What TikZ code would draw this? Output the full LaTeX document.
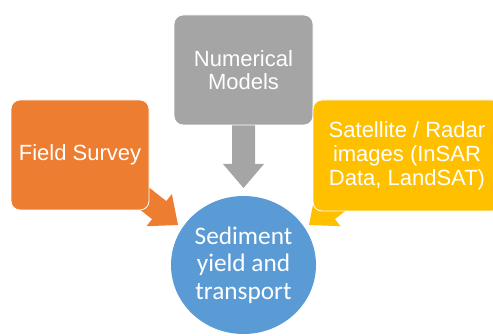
\documentclass[tikz,border=0pt]{standalone}
\usepackage{fontspec}
\setmainfont{Liberation Sans}
\newfontfamily\calib{Carlito}
\usetikzlibrary{shapes.geometric}
\definecolor{cOrange}{HTML}{ED7D31}
\definecolor{cGray}{HTML}{A5A5A5}
\definecolor{cYellow}{HTML}{FFC000}
\definecolor{cBlue}{HTML}{5B9BD5}
\newcommand\blockarrowshape[2]{%
  \fill[#1] (0,0) -- (-24,20.5) -- (-24,11.5) -- (-#2,11.5) -- (-#2,-11.5) -- (-24,-11.5) -- (-24,-20.5) -- cycle;}
\begin{document}
\begin{tikzpicture}[x=1pt,y=-1pt,
  box/.style={rectangle, rounded corners=9pt, draw=white, line width=0.8pt,
    text=white, align=center, inner sep=0pt},
  hub/.style={ellipse, fill=cBlue, text=white, align=center, inner sep=0pt,
    font=\calib\fontsize{25.3}{27.5}\selectfont}]
\useasboundingbox (0,0) rectangle (493,336);
\clip (0,0) rectangle (493,336);
% arrow tips
\coordinate (gt) at (243.5,188);
\coordinate (ot) at (178,225);
\coordinate (yt) at (309,225);
\begin{scope}[shift={(gt)}, rotate=-90]\blockarrowshape{cGray}{70}\end{scope}
\begin{scope}[shift={(ot)}, rotate=-38.3]\blockarrowshape{cOrange}{62}\end{scope}
\begin{scope}[shift={(yt)}, rotate=218.3]\blockarrowshape{cYellow}{62}\end{scope}
% boxes
\node[box, fill=cOrange, minimum width=138pt, minimum height=110pt,
  font=\fontsize{22}{23}\selectfont] (fs) at (80,155) {Field Survey};
\node[box, fill=cGray, minimum width=139pt, minimum height=110pt,
  font=\fontsize{22}{22.7}\selectfont] (nm) at (243.5,70) {Numerical\\Models};
\node[box, fill=cYellow, minimum width=188pt, minimum height=111pt,
  font=\fontsize{22}{24}\selectfont] (sr) at (407,155.5) {Satellite / Radar\\images (InSAR\\Data, LandSAT)};
\node[hub, minimum width=145pt, minimum height=138pt] (sy) at (243.5,265) {Sediment\\yield and\\transport};
\end{tikzpicture}
\end{document}
